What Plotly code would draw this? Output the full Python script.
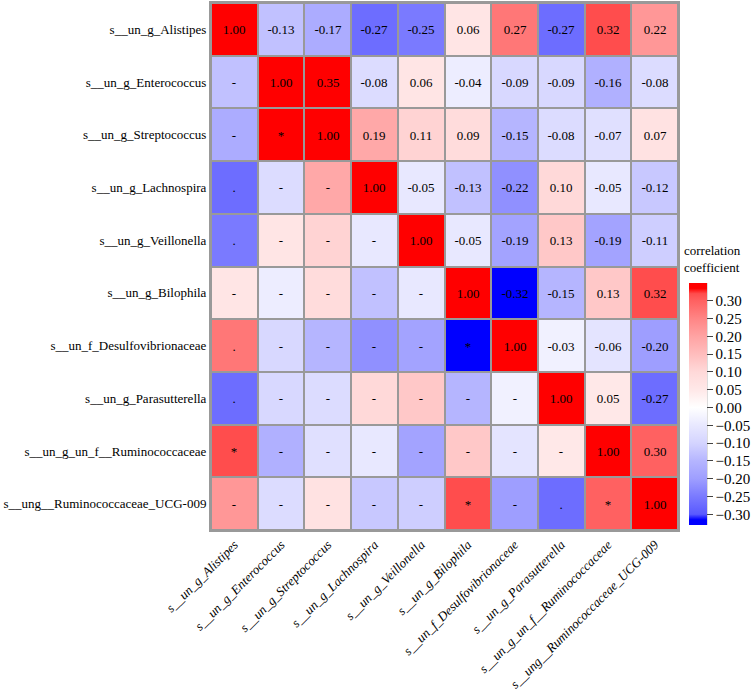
import plotly.graph_objects as go

labels = [
    "s__un_g_Alistipes",
    "s__un_g_Enterococcus",
    "s__un_g_Streptococcus",
    "s__un_g_Lachnospira",
    "s__un_g_Veillonella",
    "s__un_g_Bilophila",
    "s__un_f_Desulfovibrionaceae",
    "s__un_g_Parasutterella",
    "s__un_g_un_f__Ruminococcaceae",
    "s__ung__Ruminococcaceae_UCG-009",
]

# upper triangle (row i, columns i..9)
upper = [
    [1.00, -0.13, -0.17, -0.27, -0.25, 0.06, 0.27, -0.27, 0.32, 0.22],
    [1.00, 0.35, -0.08, 0.06, -0.04, -0.09, -0.09, -0.16, -0.08],
    [1.00, 0.19, 0.11, 0.09, -0.15, -0.08, -0.07, 0.07],
    [1.00, -0.05, -0.13, -0.22, 0.10, -0.05, -0.12],
    [1.00, -0.05, -0.19, 0.13, -0.19, -0.11],
    [1.00, -0.32, -0.15, 0.13, 0.32],
    [1.00, -0.03, -0.06, -0.20],
    [1.00, 0.05, -0.27],
    [1.00, 0.30],
    [1.00],
]

# significance marks for lower triangle (row i, columns 0..i-1)
signif = [
    [],
    ["-"],
    ["-", "*"],
    [".", "-", "-"],
    [".", "-", "-", "-"],
    ["-", "-", "-", "-", "-"],
    [".", "-", "-", "-", "-", "*"],
    [".", "-", "-", "-", "-", "-", "-"],
    ["*", "-", "-", "-", "-", "-", "-", "-"],
    ["-", "-", "-", "-", "-", "*", "-", ".", "*"],
]

cb_ticks = [0.30, 0.25, 0.20, 0.15, 0.10, 0.05, 0.00, -0.05, -0.10, -0.15, -0.20, -0.25, -0.30]
cb_title = "correlation<br>coefficient"

n = len(labels)
corr = [[0.0] * n for _ in range(n)]
for i in range(n):
    for k, v in enumerate(upper[i]):
        j = i + k
        corr[i][j] = v
        corr[j][i] = v

text = [["" for _ in range(n)] for _ in range(n)]
for i in range(n):
    for j in range(n):
        if j >= i:
            text[i][j] = f"{corr[i][j]:.2f}"
        else:
            text[i][j] = signif[i][j]

zmin, zmax = -0.33, 0.35
knots = [(-0.33, -1.0), (-0.315, -1.0), (-0.30, -0.65), (-0.25, -0.52), (-0.20, -0.38),
         (-0.15, -0.29), (-0.10, -0.17), (-0.05, -0.09), (0.0, 0.0), (0.05, 0.09),
         (0.10, 0.15), (0.15, 0.26), (0.20, 0.36), (0.25, 0.48), (0.30, 0.62),
         (0.32, 0.70), (0.335, 1.0), (0.35, 1.0)]
colorscale = []
for v, f in knots:
    pos = (v - zmin) / (zmax - zmin)
    c = int(round(255 * (1 - abs(f))))
    col = f"rgb({c},{c},255)" if f < 0 else f"rgb(255,{c},{c})"
    colorscale.append([min(max(pos, 0), 1), col])

serif = "Liberation Serif"
L, R, T, B = 211, 71, 3, 160
W, H = 754, 690
pw, ph = W - L - R, H - T - B


def px_x(p):
    return (p - L) / pw


def px_y(p):
    return (H - B - p) / ph


fig = go.Figure(go.Heatmap(
    z=corr, x=labels, y=labels, text=text, texttemplate="%{text}",
    textfont=dict(family=serif, size=13, color="black"),
    colorscale=colorscale, zmin=zmin, zmax=zmax,
    xgap=2, ygap=2,
    colorbar=dict(
        x=px_x(694), xanchor="left", xpad=0,
        y=px_y(404), yanchor="middle", ypad=0,
        len=242 / ph, lenmode="fraction", thickness=18,
        outlinewidth=0, tickvals=cb_ticks, tickformat=".2f",
        ticks="outside", ticklen=6, tickcolor="#444", tickwidth=1,
        tickfont=dict(family=serif, size=15, color="black"),
    ),
    hoverongaps=False,
))

fig.add_annotation(
    text=cb_title, xref="paper", yref="paper",
    x=px_x(687), y=px_y(259), xanchor="left", yanchor="middle", align="left",
    showarrow=False, font=dict(family=serif, size=13, color="black"),
)

fig.add_shape(type="line", xref="paper", yref="paper",
              x0=px_x(712), x1=px_x(712), y0=px_y(283), y1=px_y(525),
              line=dict(color="#444", width=1))

fig.update_layout(
    width=W, height=H,
    margin=dict(l=L, r=R, t=T, b=B),
    font=dict(family=serif),
    plot_bgcolor="#999999", paper_bgcolor="white",
    xaxis=dict(tickangle=-45, showgrid=False, zeroline=False, automargin=False,
               showline=True, linecolor="#999999", linewidth=2, mirror=True,
               tickfont=dict(family=serif, size=13, color="black", style="italic")),
    yaxis=dict(autorange="reversed", showgrid=False, zeroline=False, automargin=False,
               showline=True, linecolor="#999999", linewidth=2, mirror=True,
               tickfont=dict(family=serif, size=13, color="black")),
)

fig.write_html("out.html")
